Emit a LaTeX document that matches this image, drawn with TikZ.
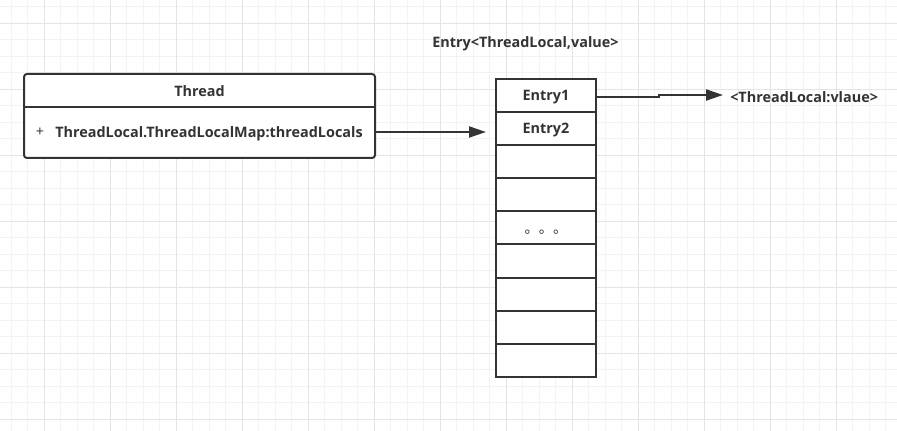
\documentclass[tikz,border=0pt]{standalone}
\usepackage{fontspec}
\setmainfont{Open Sans}
\newfontfamily\cjk{Noto Sans CJK SC}
\usetikzlibrary{arrows.meta}

\definecolor{ink}{HTML}{333333}
\definecolor{gridminor}{HTML}{F3F3F3}
\definecolor{gridmajor}{HTML}{E4E4E4}

\begin{document}
\begin{tikzpicture}[x=0.75pt,y=-0.75pt,
        txt/.style={font=\bfseries\fontsize{10.8}{13}\selectfont, text=ink, inner sep=0pt, text depth=0pt},
        arrow/.style={draw=ink, line width=1.5pt, -{Triangle[length=12.75pt,width=8.25pt]}}]
        \useasboundingbox (0,0) rectangle (897,431);
        \fill[white] (0,0) rectangle (897,431);

        % grid
        \foreach \x in {11.3,27.8,...,897} \draw[gridminor, line width=0.75pt] (\x,0) -- (\x,431);
        \foreach \y in {6.8,23.3,...,431} \draw[gridminor, line width=0.75pt] (0,\y) -- (897,\y);
        \foreach \x in {44.3,110.3,...,897} \draw[gridmajor, line width=0.75pt] (\x,0) -- (\x,431);
        \foreach \y in {23.3,89.3,...,431} \draw[gridmajor, line width=0.75pt] (0,\y) -- (897,\y);

        % the Thread class
        \node[draw=ink, line width=1.5pt, rounded corners=2.25pt, fill=white,
              minimum width=263.25pt, minimum height=63pt] (thread) at (199.5,116) {};
        \coordinate (split) at (24,107.5);
        \draw[ink, line width=1.5pt] (split) -- (split -| thread.east);
        \node[txt] (name) at (199.5,91) {Thread};
        \node[txt, font=\fontsize{10.8}{13}\selectfont, anchor=west] (plus) at (35.5,132) {+};
        \node[txt, anchor=west] (member) at (55,132) {ThreadLocal.ThreadLocalMap:threadLocals};

        % the entry table
        \begin{scope}[every node/.style={draw=ink, line width=1.5pt, fill=white, txt,
                      minimum width=75pt, minimum height=24.83pt}]
            \node (e1) at (546,95.55) {Entry1};
            \node (e2) at (546,128.65) {Entry2};
            \node (e3) at (546,161.75) {};
            \node (e4) at (546,194.85) {};
            \node (e5) at (546,227.95) {};
            \node (e6) at (546,261.05) {};
            \node (e7) at (546,294.15) {};
            \node (e8) at (546,327.25) {};
            \node (e9) at (546,360.35) {};
        \end{scope}
        \node[txt, font=\cjk\fontsize{10.7}{12}\selectfont] (dots) at ([yshift=-2.5pt]e5.center) {。。。};

        \node[txt] (header) at (525.5,42) {Entry<ThreadLocal,value>};
        \node[txt, anchor=west] (value) at (730,97) {<ThreadLocal:vlaue>};
        \coordinate (tip1) at (723,95);

        % connectors
        \draw[arrow, shorten >=6.75pt] (member -| thread.east) -- (member -| e2.west);
        \draw[arrow] ([yshift=-0.75pt]e1.east) -- ++(62,0) |- (tip1);
    \end{tikzpicture}
\end{document}
